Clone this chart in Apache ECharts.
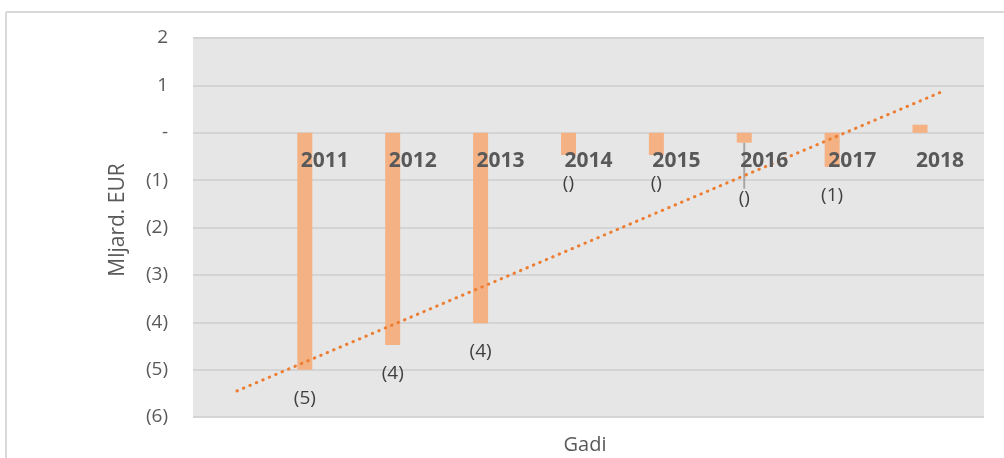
<!DOCTYPE html>
<html>
<head>
<meta charset="utf-8">
<script src="https://cdn.jsdelivr.net/npm/echarts@6/dist/echarts.min.js"></script>
<style>
  html, body { margin: 0; padding: 0; background: #fff; }
  #chart { width: 1004px; height: 458px; }
</style>
</head>
<body>
<div id="chart"></div>
<script>
// categories (first slot is empty in the original chart)
var years = ['', '2011', '2012', '2013', '2014', '2015', '2016', '2017', '2018'];
// budget balance, bn EUR
var balance = [null, -5.0, -4.48, -4.02, -0.47, -0.47, -0.21, -0.72, 0.17];
// data labels as printed on the chart
var balanceLabels = ['', '(5)', '(4)', '(4)', '()', '()', '()', '(1)', ''];
// linear trend, value at first and last category
var trendStart = -5.45;
var trendEnd = 0.85;

var textGray = '#595959';
var font = 'Open Sans';

function yLabel(v) {
    if (v > 0) return String(v);
    if (v === 0) return '-';
    return '(' + (-v) + ')';
}

// 2016 label was pulled down by hand in the original, with a leader line
var barData = balance.map(function (v, i) {
    var item = { value: v };
    if (i === 6) item.labelLine = { show: true };
    if (!balanceLabels[i]) item.label = { show: false };
    return item;
});

var myChart = echarts.init(document.getElementById('chart'));

var option = {
    animation: false,
    textStyle: { fontFamily: font },
    grid: {
        left: 193, right: 20, top: 38, bottom: 41,
        show: true, backgroundColor: '#E6E6E6', borderWidth: 0
    },
    graphic: [
        { type: 'line', shape: { x1: 6, y1: 12, x2: 1004, y2: 12 }, style: { stroke: '#D9D9D9', lineWidth: 2 } },
        { type: 'line', shape: { x1: 6, y1: 12, x2: 6, y2: 458 }, style: { stroke: '#D9D9D9', lineWidth: 2 } },
        {
            type: 'text', x: 118, y: 220, rotation: Math.PI / 2,
            style: { text: 'Mljard. EUR', fill: textGray, font: '21px "Open Sans"', align: 'center', verticalAlign: 'middle' }
        },
        {
            type: 'text', x: 585, y: 445,
            style: { text: 'Gadi', fill: textGray, font: '20px "Open Sans"', align: 'center', verticalAlign: 'middle' }
        }
    ],
    xAxis: {
        type: 'category',
        data: years,
        position: 'top',
        offset: -95,   // sits on the zero line
        z: 10,         // labels drawn over the bars
        axisTick: { show: false },
        axisLine: { show: false },
        axisLabel: { color: textGray, fontSize: 21, fontWeight: 'bold', inside: true, margin: 18, interval: 0 }
    },
    yAxis: {
        type: 'value',
        min: -6, max: 2, interval: 1,
        axisLine: { show: false },
        axisTick: { show: false },
        splitLine: { lineStyle: { color: '#D4D4D4', width: 2 } },
        axisLabel: { color: textGray, fontSize: 19, margin: 25, formatter: yLabel }
    },
    series: [
        {
            name: 'Bilance',
            type: 'bar',
            data: barData,
            barWidth: 15,
            barGap: '167%',
            itemStyle: { color: '#F4B183' },
            label: {
                show: true,
                position: 'bottom',
                distance: 19,
                color: '#404040',
                fontSize: 19,
                formatter: function (p) { return balanceLabels[p.dataIndex]; }
            },
            labelLine: { show: false, lineStyle: { color: '#A6A6A6', width: 2 } },
            labelLayout: function (p) {
                if (p.dataIndex === 6) return { dy: 27 };
                return {};
            },
            z: 2
        },
        {
            name: 'tukšs',
            type: 'bar',
            data: [],
            barWidth: 15
        },
        {
            name: 'Trend',
            type: 'line',
            data: [[0, trendStart], [years.length - 1, trendEnd]],
            symbol: 'none',
            lineStyle: { color: '#ED7D31', width: 3, type: [0.5, 6.5], cap: 'round' },
            z: 3
        }
    ]
};

myChart.setOption(option);
</script>
</body>
</html>
